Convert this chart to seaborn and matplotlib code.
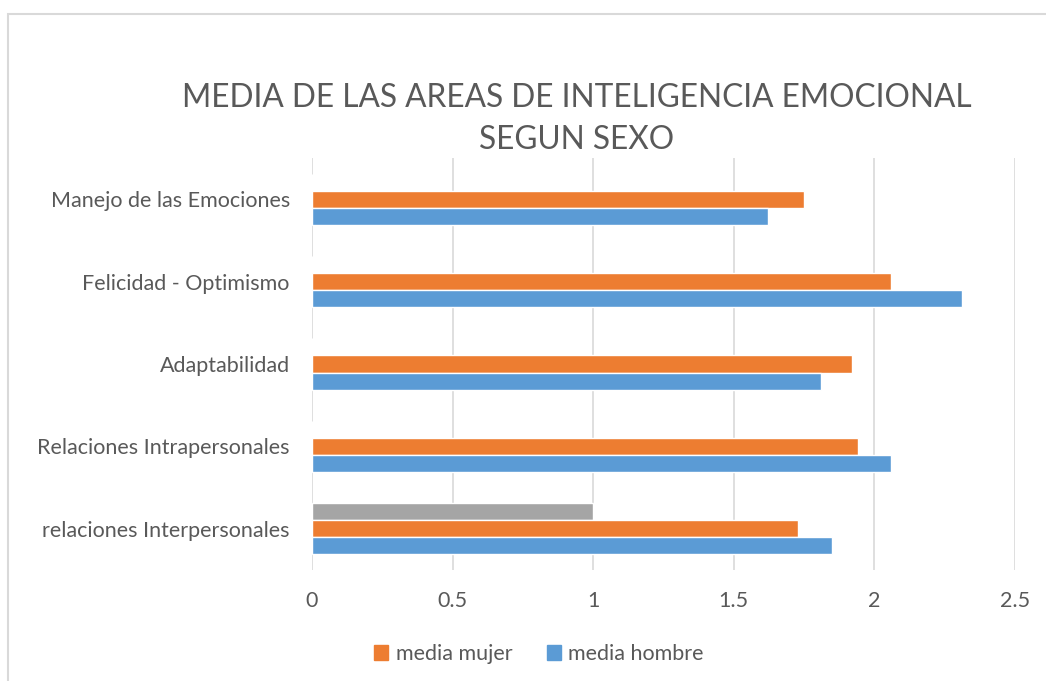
import pandas as pd
import matplotlib
matplotlib.use('Agg')
import matplotlib.pyplot as plt
from matplotlib.patches import Patch, Rectangle
import seaborn as sns

# datos
areas = ['Manejo de las Emociones', 'Felicidad - Optimismo', 'Adaptabilidad',
         'Relaciones Intrapersonales', 'relaciones Interpersonales']
media_mujer = [1.75, 2.06, 1.92, 1.94, 1.73]
media_hombre = [1.62, 2.31, 1.81, 2.06, 1.85]
serie_3 = [0, 0, 0, 0, 1.0]
ticks = [0, 0.5, 1, 1.5, 2, 2.5]
tick_labels = ['0', '0.5', '1', '1.5', '2', '2.5']

series = ['serie 3', 'media mujer', 'media hombre']
colores = {'serie 3': '#a5a5a5', 'media mujer': '#ed7d31', 'media hombre': '#5b9bd5'}

rows = []
for i, area in enumerate(areas):
    rows.append({'area': area, 'serie': 'serie 3', 'valor': serie_3[i]})
    rows.append({'area': area, 'serie': 'media mujer', 'valor': media_mujer[i]})
    rows.append({'area': area, 'serie': 'media hombre', 'valor': media_hombre[i]})
df = pd.DataFrame(rows)

sns.set_style('white')
plt.rcParams['font.family'] = ['Lato', 'DejaVu Sans']
texto = '#595959'

fig = plt.figure(figsize=(10.46, 6.81), dpi=100)
ax = fig.add_axes([312 / 1046, 1 - 570 / 681, (1015 - 312) / 1046, (570 - 158) / 681])

sns.barplot(data=df, y='area', x='valor', hue='serie', order=areas, hue_order=series,
            palette=colores, orient='h', width=0.62, saturation=1, legend=False,
            errorbar=None, ax=ax)

ax.set_xlim(0, 2.5)
ax.set_xticks(ticks)
ax.set_xticklabels(tick_labels)
ax.set_xlabel('')
ax.set_ylabel('')
ax.grid(axis='x', color='#d9d9d9', linewidth=1.2)
ax.set_axisbelow(True)
for s in ax.spines.values():
    s.set_visible(False)
ax.tick_params(axis='x', length=0, pad=15, labelsize=15.5, labelcolor=texto)
ax.tick_params(axis='y', length=0, pad=16, labelsize=15.5, labelcolor=texto)

fig.text(577 / 1046, 1 - 119 / 681, 'MEDIA DE LAS AREAS DE INTELIGENCIA EMOCIONAL\nSEGUN SEXO',
         ha='center', va='center', fontsize=22.8, color=texto, linespacing=1.5)

handles = [Patch(color=colores['media mujer'], label='media mujer'),
           Patch(color=colores['media hombre'], label='media hombre')]
fig.legend(handles=handles, loc='center', bbox_to_anchor=(539 / 1046, 1 - 654 / 681), ncol=2,
           frameon=False, fontsize=15.5, labelcolor=texto, handlelength=0.65, handleheight=0.65,
           handletextpad=0.35, columnspacing=1.6)

# marco del area del grafico
fig.patches.append(Rectangle((8 / 1046, -0.1), 1.2, 1 - 14 / 681 + 0.1, transform=fig.transFigure,
                             fill=False, edgecolor='#d9d9d9', linewidth=1.5))

fig.savefig('out.png', dpi=100)
